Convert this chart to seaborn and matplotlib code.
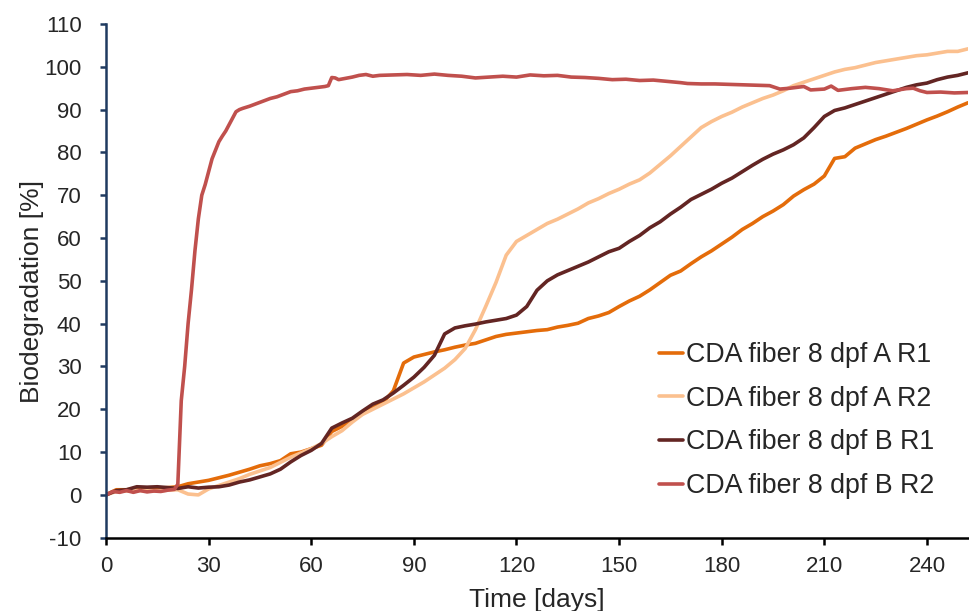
import numpy as np
import pandas as pd
import matplotlib
matplotlib.use("Agg")
import matplotlib.pyplot as plt
import seaborn as sns

# ---------------- data ----------------
days = list(range(0, 253, 3))

a_r1 = [0, 1.2, 1.2, 1.4, 1.5, 1.6, 1.7, 1.9, 2.6, 3.0,
        3.4, 4.0, 4.6, 5.3, 6.0, 6.8, 7.3, 8.0, 9.6, 10.0,
        10.8, 11.6, 14.8, 16.0, 17.6, 19.0, 20.3, 21.6, 24.3, 30.8,
        32.2, 32.8, 33.4, 33.9, 34.5, 35.0, 35.4, 36.2, 37.0, 37.5,
        37.8, 38.1, 38.4, 38.6, 39.2, 39.6, 40.1, 41.2, 41.8, 42.6,
        44.0, 45.3, 46.4, 47.9, 49.6, 51.3, 52.3, 54.0, 55.6, 57.0,
        58.6, 60.2, 62.0, 63.4, 65.0, 66.3, 67.8, 69.8, 71.3, 72.6,
        74.5, 78.6, 79.0, 81.0, 82.0, 83.0, 83.8, 84.7, 85.6, 86.6,
        87.6, 88.5, 89.5, 90.6, 91.6]

a_r2 = [0, 0.8, 0.9, 1.0, 1.0, 0.9, 1.1, 1.2, 0.2, 0.0,
        1.4, 2.2, 3.0, 3.8, 4.8, 5.6, 6.4, 7.6, 8.8, 9.8,
        10.8, 12.0, 13.6, 15.0, 17.0, 18.8, 20.0, 21.2, 22.4, 23.6,
        25.0, 26.4, 28.0, 29.6, 31.6, 34.2, 38.6, 44.0, 49.6, 56.0,
        59.2, 60.6, 62.0, 63.4, 64.4, 65.6, 66.8, 68.2, 69.2, 70.4,
        71.4, 72.6, 73.6, 75.2, 77.2, 79.2, 81.4, 83.6, 85.8, 87.2,
        88.4, 89.4, 90.6, 91.6, 92.6, 93.4, 94.4, 95.6, 96.4, 97.2,
        98.0, 98.8, 99.4, 99.8, 100.4, 101.0, 101.4, 101.8, 102.2, 102.6,
        102.8, 103.2, 103.6, 103.6, 104.2]

b_r1 = [0, 1.0, 1.2, 1.9, 1.8, 1.9, 1.7, 1.5, 1.9, 1.6,
        1.8, 1.9, 2.3, 3.0, 3.5, 4.2, 4.9, 6.0, 7.7, 9.2,
        10.4, 12.0, 15.6, 16.8, 17.9, 19.6, 21.2, 22.2, 23.8, 25.6,
        27.5, 29.8, 32.6, 37.6, 39.0, 39.5, 39.9, 40.4, 40.8, 41.2,
        42.0, 44.0, 47.8, 50.0, 51.4, 52.4, 53.4, 54.4, 55.6, 56.8,
        57.6, 59.2, 60.6, 62.4, 63.8, 65.6, 67.2, 69.0, 70.2, 71.4,
        72.8, 74.0, 75.5, 77.0, 78.4, 79.6, 80.6, 81.8, 83.4, 85.8,
        88.4, 89.8, 90.4, 91.2, 92.0, 92.8, 93.6, 94.4, 95.2, 95.8,
        96.2, 97.0, 97.6, 98.0, 98.6]

days_b2 = [0, 2, 4, 6, 8, 10, 12, 14, 16, 18, 20, 21, 22, 23, 24, 25, 26, 27, 28, 29,
           30, 31, 32, 33, 34, 35, 36, 37, 38, 39, 40, 42, 44, 46, 48, 50, 52, 54, 56, 58,
           60, 62, 64, 65, 66, 67, 68, 70, 72, 74, 76, 78, 80, 84, 88, 92, 96, 100, 104, 108,
           112, 116, 120, 124, 128, 132, 136, 140, 144, 148, 152, 156, 160, 164, 168, 170, 174, 178, 182, 186,
           190, 194, 197, 200, 204, 206, 210, 212, 214, 218, 222, 226, 230, 234, 236, 238, 240, 244, 248, 252]
b_r2 = [0, 0.8, 0.6, 1.0, 0.6, 1.0, 0.7, 0.9, 0.8, 1.1, 1.3, 2.5, 22.0, 30.0, 40.0, 48.0, 57.0, 64.5, 70.0, 72.5,
        75.5, 78.5, 80.5, 82.5, 83.8, 85.0, 86.5, 88.0, 89.5, 90.0, 90.3, 90.8, 91.4, 92.0, 92.6, 93.0, 93.6, 94.2, 94.4, 94.8,
        95.0, 95.2, 95.4, 95.6, 97.5, 97.4, 97.0, 97.3, 97.6, 98.0, 98.2, 97.8, 98.0, 98.1, 98.2, 98.0, 98.3, 98.0, 97.8, 97.4,
        97.6, 97.8, 97.6, 98.1, 97.9, 98.0, 97.6, 97.5, 97.3, 97.0, 97.1, 96.8, 96.9, 96.6, 96.3, 96.1, 96.0, 96.0, 95.9, 95.8,
        95.7, 95.6, 94.8, 95.0, 95.4, 94.6, 94.8, 95.5, 94.5, 94.9, 95.2, 94.9, 94.4, 94.9, 95.0, 94.4, 94.0, 94.1, 93.9, 94.0]

labels = ["CDA fiber 8 dpf A R1", "CDA fiber 8 dpf A R2",
          "CDA fiber 8 dpf B R1", "CDA fiber 8 dpf B R2"]
colors = ["#E46C0A", "#FBC08F", "#632523", "#C0504D"]

x_ticks = [0, 30, 60, 90, 120, 150, 180, 210, 240]
y_ticks = list(range(-10, 111, 10))

# ---------------- build long table ----------------
frames = []
for lab, xs, ys in [(labels[0], days, a_r1), (labels[1], days, a_r2),
                    (labels[2], days, b_r1), (labels[3], days_b2, b_r2)]:
    frames.append(pd.DataFrame({"day": xs, "val": ys, "series": lab}))
df = pd.concat(frames, ignore_index=True)

# ---------------- style ----------------
sns.set_style("white")
plt.rcParams["font.family"] = ["Liberation Sans", "DejaVu Sans"]
plt.rcParams["axes.unicode_minus"] = False

fig = plt.figure(figsize=(9.70, 6.11), dpi=100)
ax = fig.add_axes([106 / 970, 1 - 537.7 / 611, (968 - 106) / 970, (537.7 - 24) / 611])

sns.lineplot(data=df, x="day", y="val", hue="series", hue_order=labels,
             palette=dict(zip(labels, colors)), linewidth=2.6, ax=ax,
             estimator=None, sort=False)

ax.set_xlim(0, 252)
ax.set_ylim(-10, 110)
ax.set_xticks(x_ticks)
ax.set_yticks(y_ticks)

navy = "#1F3A60"
for s in ["top", "right"]:
    ax.spines[s].set_visible(False)
ax.spines["left"].set_color(navy)
ax.spines["left"].set_linewidth(1.8)
ax.spines["bottom"].set_color("black")
ax.spines["bottom"].set_linewidth(1.8)

ax.tick_params(axis="y", direction="out", length=4.5, width=1.8, color=navy,
               labelsize=16, pad=13, left=True)
ax.tick_params(axis="x", direction="out", length=5, width=1.8, color="black",
               labelsize=16, pad=8, bottom=True)

ax.set_xlabel("Time [days]", fontsize=19)
ax.set_ylabel("Biodegradation [%]", fontsize=19)
ax.xaxis.set_label_coords(0.5, -0.098)
ax.yaxis.set_label_coords(-0.072, 0.48)

handles, labs = ax.get_legend_handles_labels()
leg = ax.legend(handles, labs, loc="upper left",
                bbox_to_anchor=(659 / 970, 1 - 342 / 611), bbox_transform=fig.transFigure,
                frameon=False, fontsize=19.3, borderpad=0, borderaxespad=0,
                handlelength=0.9, handletextpad=0.12, labelspacing=0.66)

fig.savefig("out.png", dpi=100, facecolor="white")
